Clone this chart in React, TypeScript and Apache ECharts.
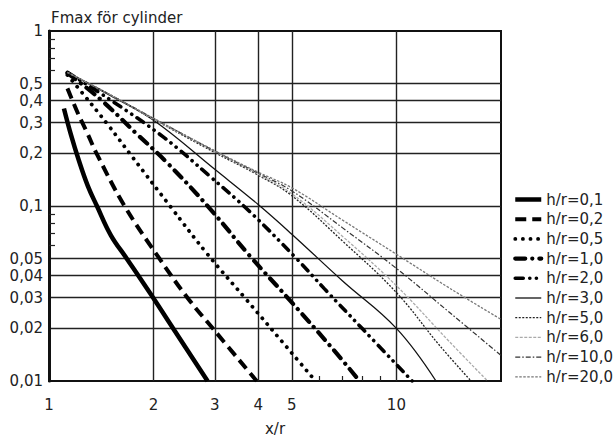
import React, { useEffect, useRef } from "react";
import * as echarts from "echarts";

const FONT = "DejaVu Sans";

const seriesNames = [
  "h/r=0,1", "h/r=0,2", "h/r=0,5", "h/r=1,0", "h/r=2,0",
  "h/r=3,0", "h/r=5,0", "h/r=6,0", "h/r=10,0", "h/r=20,0",
];

const xR01 = [1.104, 1.157, 1.219, 1.294, 1.374, 1.507, 1.675, 1.951, 2.302, 2.86];
const yR01 = [0.361, 0.255, 0.182, 0.130, 0.10, 0.068, 0.05, 0.0319, 0.0193, 0.01];

const xR02 = [1.13, 1.21, 1.29, 1.37, 1.65, 2.08, 2.5, 2.96, 3.96];
const yR02 = [0.47, 0.34, 0.26, 0.20, 0.10, 0.05, 0.03, 0.02, 0.01];

const xR05 = [1.13, 1.25, 1.48, 1.74, 2.23, 2.86, 3.71, 5.02, 5.85];
const yR05 = [0.56, 0.44, 0.29, 0.19, 0.10, 0.053, 0.029, 0.0143, 0.01];

const xR1 = [1.13, 1.40, 1.79, 2.18, 2.90, 3.78, 4.93, 6.55, 7.83];
const yR1 = [0.575, 0.41, 0.258, 0.178, 0.097, 0.052, 0.029, 0.0153, 0.01];

const xR2 = [1.13, 1.50, 2.15, 2.88, 3.78, 5.16, 6.21, 8.0, 11.1];
const yR2 = [0.58, 0.405, 0.245, 0.150, 0.093, 0.050, 0.0336, 0.0198, 0.01];

const xR3 = [1.13, 1.5, 2, 3, 4, 5, 7, 10, 13];
const yR3 = [0.58, 0.428, 0.309, 0.162, 0.102, 0.069, 0.0373, 0.0200, 0.01];

const xR5 = [1.13, 1.5, 2, 3, 4, 5, 7, 10, 13.3, 16.4];
const yR5 = [0.58, 0.432, 0.313, 0.202, 0.150, 0.1145, 0.063, 0.032, 0.016, 0.01];

const xR6 = [1.13, 1.5, 2, 3, 4, 5, 7, 10, 14.2, 18.3];
const yR6 = [0.58, 0.432, 0.313, 0.205, 0.152, 0.1175, 0.067, 0.035, 0.0168, 0.01];

const xR10 = [1.13, 1.5, 2, 3, 4, 5, 7, 10, 14.2, 20];
const yR10 = [0.58, 0.432, 0.317, 0.206, 0.154, 0.122, 0.075, 0.044, 0.0247, 0.014];

const xR20 = [1.13, 1.5, 2, 3, 4, 5, 7, 10, 14.2, 20];
const yR20 = [0.58, 0.432, 0.317, 0.207, 0.156, 0.127, 0.083, 0.053, 0.034, 0.0225];

const xGridValues = [2, 3, 4, 5, 10];
const xLabelValues = [1, 2, 3, 4, 5, 10];
const xLabelTexts = ["1", "2", "3", "4", "5", "10"];
const xMinorTicks = [6, 7, 8, 9];

const yGridValues = [0.02, 0.03, 0.04, 0.05, 0.1, 0.2, 0.3, 0.4, 0.5];
const yLabelValues = [0.01, 0.02, 0.03, 0.04, 0.05, 0.1, 0.2, 0.3, 0.4, 0.5, 1];
const yLabelTexts = ["0,01", "0,02", "0,03", "0,04", "0,05", "0,1", "0,2", "0,3", "0,4", "0,5", "1"];
const yMinorTicks = [0.06, 0.07, 0.08, 0.09, 0.6, 0.7, 0.8, 0.9];

const xs = [xR01, xR02, xR05, xR1, xR2, xR3, xR5, xR6, xR10, xR20];
const ys = [yR01, yR02, yR05, yR1, yR2, yR3, yR5, yR6, yR10, yR20];

const lineStyles: any[] = [
  { width: 4.5, type: "solid", color: "#000" },
  { width: 4, type: [11, 6], color: "#000" },
  { width: 3.8, type: [0.1, 7.5], cap: "round", color: "#000" },
  { width: 4.2, type: [10, 7, 0.1, 7], cap: "round", color: "#000" },
  { width: 3.6, type: [8, 6.5, 0.1, 6.5, 0.1, 6.5], cap: "round", color: "#000" },
  { width: 1.3, type: "solid", color: "#111" },
  { width: 1.3, type: [2, 1.5], color: "#222" },
  { width: 1.3, type: [3, 1.5], color: "#aaa" },
  { width: 1.2, type: [5, 2, 1.5, 2], color: "#333" },
  { width: 1.3, type: [2.5, 1.5], color: "#777" },
];

function makeFormatter(values: number[], texts: string[]) {
  return (v: number) => {
    for (let i = 0; i < values.length; i++) {
      if (Math.abs(v / values[i] - 1) < 1e-6) return texts[i];
    }
    return "";
  };
}

export default function App() {
  const ref = useRef<HTMLDivElement>(null);
  useEffect(() => {
    if (!ref.current) return;
    const chart = echarts.init(ref.current, undefined, { renderer: "svg" });
    const textColor = "#222";
    chart.setOption({
      animation: false,
      backgroundColor: "#fff",
      title: {
        text: "Fmax för cylinder",
        left: 51,
        top: 10,
        padding: 0,
        textStyle: { fontFamily: FONT, fontSize: 15, fontWeight: "normal", color: textColor },
      },
      legend: {
        orient: "vertical",
        left: 513,
        top: 192,
        itemWidth: 26,
        itemHeight: 15,
        itemGap: 4.7,
        selectedMode: false,
        padding: 0,
        data: seriesNames,
        itemStyle: { opacity: 0 },
        lineStyle: { width: "inherit" },
        textStyle: { fontFamily: FONT, fontSize: 15, color: textColor, lineHeight: 15 },
      },
      grid: {
        left: 49,
        top: 31,
        width: 452,
        height: 357,
        show: true,
        borderColor: "#111",
        borderWidth: 2,
        backgroundColor: "transparent",
        containLabel: false,
      },
      xAxis: [
        {
          type: "log",
          logBase: 10,
          min: 1,
          max: 20,
          position: "bottom",
          axisLine: { show: false },
          axisTick: { show: false, customValues: xGridValues },
          axisLabel: {
            customValues: xLabelValues,
            formatter: makeFormatter(xLabelValues, xLabelTexts),
            margin: 16,
            fontFamily: FONT,
            fontSize: 15,
            color: textColor,
          },
          splitLine: { show: true, lineStyle: { color: "#222", width: 1.4 } },
          name: "x/r",
          nameLocation: "middle",
          nameGap: 40,
          nameTextStyle: { fontFamily: FONT, fontSize: 15, color: textColor },
        },
        {
          type: "log",
          logBase: 10,
          min: 1,
          max: 20,
          position: "bottom",
          axisLine: { show: false },
          axisLabel: { show: false },
          splitLine: { show: false },
          axisTick: {
            show: true,
            inside: true,
            length: 5,
            customValues: xMinorTicks,
            lineStyle: { color: "#222", width: 1.2 },
          },
        },
      ],
      yAxis: [
        {
          type: "log",
          logBase: 10,
          min: 0.01,
          max: 1,
          position: "left",
          axisLine: { show: true, lineStyle: { color: "#111", width: 3 } },
          axisTick: { show: false, customValues: yGridValues },
          axisLabel: {
            customValues: yLabelValues,
            formatter: makeFormatter(yLabelValues, yLabelTexts),
            margin: 6,
            fontFamily: FONT,
            fontSize: 15,
            color: textColor,
          },
          splitLine: { show: true, lineStyle: { color: "#222", width: 1.4 } },
        },
        {
          type: "log",
          logBase: 10,
          min: 0.01,
          max: 1,
          position: "left",
          axisLine: { show: false },
          axisLabel: { show: false },
          splitLine: { show: false },
          axisTick: {
            show: true,
            inside: true,
            length: 6,
            customValues: yMinorTicks,
            lineStyle: { color: "#222", width: 1.2 },
          },
        },
      ],
      series: seriesNames.map((name, i) => ({
        name,
        type: "line",
        xAxisIndex: 0,
        yAxisIndex: 0,
        data: xs[i].map((x, j) => [x, ys[i][j]]),
        symbol: "none",
        showSymbol: false,
        smooth: 0.4,
        lineStyle: lineStyles[i],
        itemStyle: { color: lineStyles[i].color },
        emphasis: { disabled: true },
        z: 3,
      })),
    });
    return () => chart.dispose();
  }, []);
  return (
    <div
      ref={ref}
      style={{ position: "fixed", left: 0, top: 0, width: 613, height: 441, background: "#fff" }}
    />
  );
}
